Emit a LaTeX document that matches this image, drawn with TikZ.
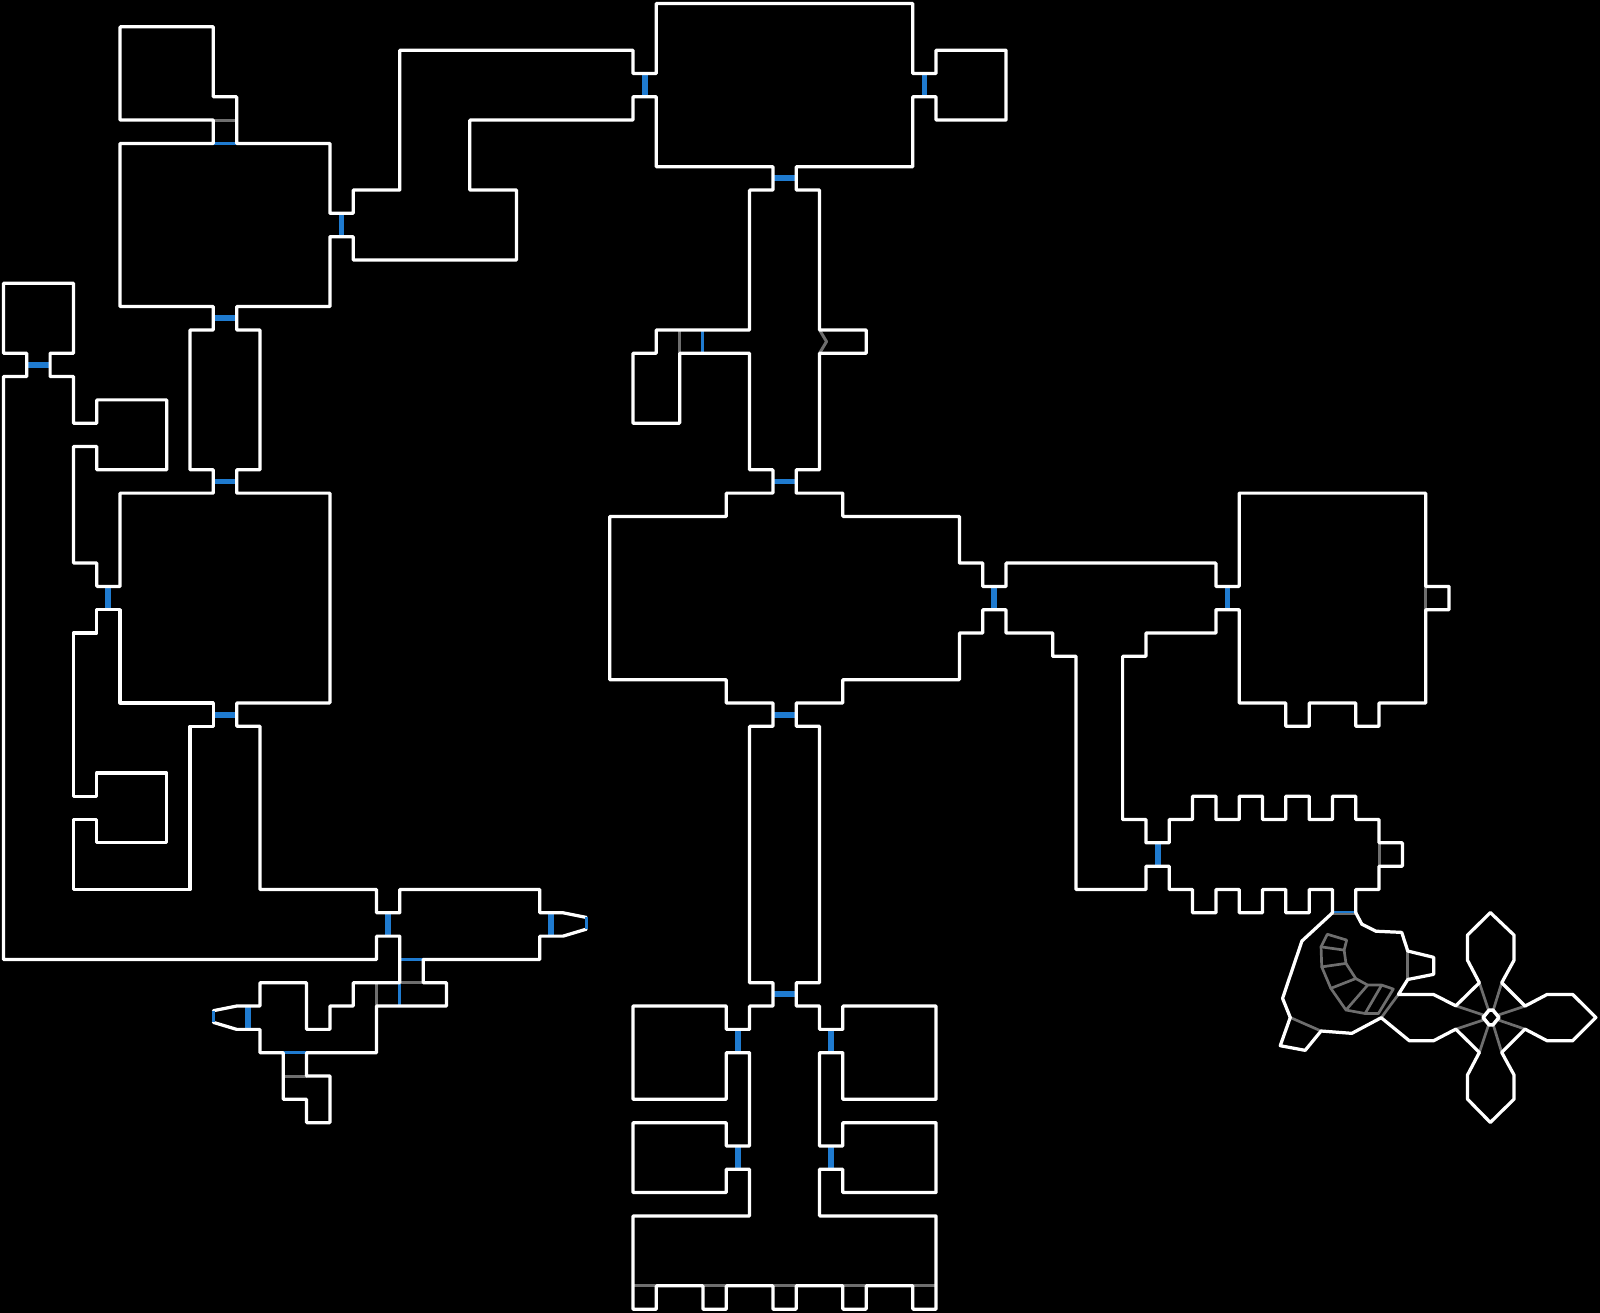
\documentclass[tikz,border=0pt]{standalone}
\usepackage{tikz}
\usepackage{xcolor}

\definecolor{doorblue}{HTML}{1F7BD0}
\definecolor{sealgray}{HTML}{6E6E6E}

\begin{document}
\begin{tikzpicture}[x=.35cm, y=-.35cm, line join=round, line cap=round]

        % 1. Styles for the map lines
        \tikzset{wall/.style={white, line width=1.38pt}}
        \tikzset{door/.style={doorblue, line width=2.5pt, line cap=butt}}
        \tikzset{thindoor/.style={doorblue, line width=1.28pt, line cap=butt}}
        \tikzset{seal/.style={sealgray, line width=1.28pt, line cap=butt}}
        \tikzset{inner/.style={sealgray, line width=1.15pt}}

        % Background, it also fixes the margins
        \fill[black] (-0.15,-0.15) rectangle (68.475,56.16);

        % 2. Wide doors (vertical, then horizontal)
        \foreach \x/\y in {14.5/9, 27.5/3, 39.5/3, 4.5/25, 16.5/39, 23.5/39, 10.5/43, 42.5/25, 52.5/25,
                49.5/36, 31.5/44, 35.5/44, 31.5/49, 35.5/49}
            \draw[door] (\x,\y) -- (\x,\y+1);
        \foreach \x/\y in {33/7.5, 33/20.5, 9/13.5, 9/20.5, 9/30.5, 1/15.5, 33/30.5, 33/42.5}
            \draw[door] (\x,\y) -- (\x+1,\y);

        % 3. Thin doors
        \draw[thindoor] (9,6) -- (10,6);
        \draw[thindoor] (17,41) -- (18,41);
        \draw[thindoor] (12,45) -- (13,45);
        \draw[thindoor] (17,42) -- (17,43);
        \draw[thindoor] (30,14) -- (30,15);
        \draw[doorblue, line width=.7pt, line cap=butt] (57,38.96) -- (58,38.96);

        % 4. Gray seals
        \foreach \x/\y in {9/5, 17/42, 12/46, 27/55, 30/55, 33/55, 36/55, 39/55}
            \draw[seal] (\x,\y) -- (\x+1,\y);
        \foreach \x/\y in {16/42, 29/14, 61/25, 59/36}
            \draw[seal] (\x,\y) -- (\x,\y+1);
        \draw[seal] (35,14) -- (35.3,14.5) -- (35,15);
        \draw[sealgray, line width=.7pt, line cap=butt] (57,39.04) -- (58,39.04);

        % 5. Gray lines inside the cave
        \begin{scope}[shift={(0.04,0.03)}]
        \draw[inner] (56.74,39.89) -- (57.57,40.14) -- (57.46,40.57) -- (57.54,41.14) -- (57.96,41.79)
            -- (58.47,42.07) -- (59.07,42.07) -- (59.57,42.24) -- (58.93,43.29) -- (58.36,43.29)
            -- (57.54,43.14) -- (56.89,42.21) -- (56.5,41.29) -- (56.47,40.43) -- cycle;
        \draw[inner] (56.47,40.43) -- (57.46,40.57);
        \draw[inner] (56.5,41.29) -- (57.54,41.14);
        \draw[inner] (56.89,42.21) -- (57.96,41.79);
        \draw[inner] (57.54,43.14) -- (58.47,42.07);
        \draw[inner] (58.36,43.29) -- (59.07,42.07);
        \draw[inner] (59.05,43.47) -- (59.79,42.47);
        \draw[inner] (60.19,40.61) -- (60.19,41.83);
        \draw[inner] (55.15,43.46) -- (56.47,44.04);

        % Spokes of the star
        \foreach \x/\y in {62.25/42.96, 62.25/43.96, 65.22/42.97, 65.22/43.96,
                63.26/41.97, 64.22/41.97, 63.26/44.96, 64.22/44.96}
            \draw[inner] (\x,\y) -- (63.76,43.46);
        \end{scope}

        % 6. Walls of the square rooms, all one line
        \draw[wall] (57,39) -- (57,38) -- (56,38) -- (56,39) -- (55,39) -- (55,38) -- (54,38) -- (54,39)
            -- (53,39) -- (53,38) -- (52,38) -- (52,39) -- (51,39) -- (51,38) -- (50,38) -- (50,37)
            -- (49,37) -- (49,38) -- (46,38) -- (46,28) -- (45,28) -- (45,27) -- (43,27) -- (43,26)
            -- (42,26) -- (42,27) -- (41,27) -- (41,29) -- (36,29) -- (36,30) -- (34,30) -- (34,31)
            -- (35,31) -- (35,42) -- (34,42) -- (34,43) -- (35,43) -- (35,44) -- (36,44) -- (36,43)
            -- (40,43) -- (40,47) -- (36,47) -- (36,45) -- (35,45) -- (35,49) -- (36,49) -- (36,48)
            -- (40,48) -- (40,51) -- (36,51) -- (36,50) -- (35,50) -- (35,52) -- (40,52) -- (40,56)
            -- (39,56) -- (39,55) -- (37,55) -- (37,56) -- (36,56) -- (36,55) -- (34,55) -- (34,56)
            -- (33,56) -- (33,55) -- (31,55) -- (31,56) -- (30,56) -- (30,55) -- (28,55) -- (28,56)
            -- (27,56) -- (27,52) -- (32,52) -- (32,50) -- (31,50) -- (31,51) -- (27,51) -- (27,48)
            -- (31,48) -- (31,49) -- (32,49) -- (32,45) -- (31,45) -- (31,47) -- (27,47) -- (27,43)
            -- (31,43) -- (31,44) -- (32,44) -- (32,43) -- (33,43) -- (33,42) -- (32,42) -- (32,31)
            -- (33,31) -- (33,30) -- (31,30) -- (31,29) -- (26,29) -- (26,22) -- (31,22) -- (31,21)
            -- (33,21) -- (33,20) -- (32,20) -- (32,15) -- (29,15) -- (29,18) -- (27,18) -- (27,15)
            -- (28,15) -- (28,14) -- (32,14) -- (32,8) -- (33,8) -- (33,7) -- (28,7) -- (28,4)
            -- (27,4) -- (27,5) -- (20,5) -- (20,8) -- (22,8) -- (22,11) -- (15,11) -- (15,10)
            -- (14,10) -- (14,13) -- (10,13) -- (10,14) -- (11,14) -- (11,20) -- (10,20) -- (10,21)
            -- (14,21) -- (14,30) -- (10,30) -- (10,31) -- (11,31) -- (11,38) -- (16,38) -- (16,39)
            -- (17,39) -- (17,38) -- (23,38) -- (23,39) -- (24,39) -- (25,39.2);
        \draw[wall] (25,39.7) -- (24,40)
            -- (23,40) -- (23,41) -- (18,41) -- (18,42) -- (19,42) -- (19,43) -- (16,43) -- (16,45)
            -- (13,45) -- (13,46) -- (14,46) -- (14,48) -- (13,48) -- (13,47) -- (12,47) -- (12,45)
            -- (11,45) -- (11,44) -- (10,44) -- (9,43.7);
        \draw[wall] (9,43.2) -- (10,43) -- (11,43) -- (11,42)
            -- (13,42) -- (13,44) -- (14,44) -- (14,43) -- (15,43) -- (15,42) -- (17,42) -- (17,40)
            -- (16,40) -- (16,41) -- (0,41) -- (0,16) -- (1,16) -- (1,15) -- (0,15) -- (0,12)
            -- (3,12) -- (3,15) -- (2,15) -- (2,16) -- (3,16) -- (3,18) -- (4,18) -- (4,17)
            -- (7,17) -- (7,20) -- (4,20) -- (4,19) -- (3,19) -- (3,24) -- (4,24) -- (4,25)
            -- (5,25) -- (5,21) -- (9,21) -- (9,20) -- (8,20) -- (8,14) -- (9,14) -- (9,13)
            -- (5,13) -- (5,6) -- (9,6) -- (9,5) -- (5,5) -- (5,1) -- (9,1) -- (9,4)
            -- (10,4) -- (10,6) -- (14,6) -- (14,9) -- (15,9) -- (15,8) -- (17,8) -- (17,2)
            -- (27,2) -- (27,3) -- (28,3) -- (28,0) -- (39,0) -- (39,3) -- (40,3) -- (40,2)
            -- (43,2) -- (43,5) -- (40,5) -- (40,4) -- (39,4) -- (39,7) -- (34,7) -- (34,8)
            -- (35,8) -- (35,14) -- (37,14) -- (37,15) -- (35,15) -- (35,20) -- (34,20) -- (34,21)
            -- (36,21) -- (36,22) -- (41,22) -- (41,24) -- (42,24) -- (42,25) -- (43,25) -- (43,24)
            -- (52,24) -- (52,25) -- (53,25) -- (53,21) -- (61,21) -- (61,25) -- (62,25) -- (62,26)
            -- (61,26) -- (61,30) -- (59,30) -- (59,31) -- (58,31) -- (58,30) -- (56,30) -- (56,31)
            -- (55,31) -- (55,30) -- (53,30) -- (53,26) -- (52,26) -- (52,27) -- (49,27) -- (49,28)
            -- (48,28) -- (48,35) -- (49,35) -- (49,36) -- (50,36) -- (50,35) -- (51,35) -- (51,34)
            -- (52,34) -- (52,35) -- (53,35) -- (53,34) -- (54,34) -- (54,35) -- (55,35) -- (55,34)
            -- (56,34) -- (56,35) -- (57,35) -- (57,34) -- (58,34) -- (58,35) -- (59,35) -- (59,36)
            -- (60,36) -- (60,37) -- (59,37) -- (59,38) -- (58,38) -- (58,39);

        % Ends of the two small pods
        \draw[thindoor] (25,39.2) -- (25,39.7);
        \draw[thindoor] (9,43.2) -- (9,43.7);

        % Lower left hall
        \draw[wall] (4,26) -- (5,26) -- (5,30) -- (9,30) -- (9,31) -- (8,31) -- (8,38) -- (3,38)
            -- (3,35) -- (4,35) -- (4,36) -- (7,36) -- (7,33) -- (4,33) -- (4,34) -- (3,34)
            -- (3,27) -- (4,27) -- cycle;

        % 7. Cave and star
        \begin{scope}[shift={(0.04,0.03)}]
        \draw[wall] (56.96,38.97) -- (55.65,40.18) -- (54.82,42.64) -- (55.15,43.46) -- (54.72,44.67)
            -- (55.79,44.87) -- (56.47,44.04) -- (57.79,44.14) -- (59.05,43.47) -- (60.26,44.46)
            -- (61.29,44.46) -- (62.25,43.96) -- (63.26,44.96) -- (62.75,45.93) -- (62.75,46.96)
            -- (63.73,47.96) -- (64.75,46.96) -- (64.75,45.93) -- (64.22,44.96) -- (65.22,43.96)
            -- (66.17,44.46) -- (67.26,44.46) -- (68.26,43.46) -- (67.26,42.47) -- (66.17,42.47)
            -- (65.22,42.97) -- (64.22,41.97) -- (64.75,41) -- (64.75,39.93) -- (63.73,38.96)
            -- (62.75,39.93) -- (62.75,41) -- (63.26,41.97) -- (62.25,42.96) -- (61.29,42.47)
            -- (59.79,42.47) -- (60.19,41.83) -- (61.30,41.61) -- (61.30,40.88) -- (60.19,40.61)
            -- (59.93,39.81) -- (58.82,39.76) -- (58.22,39.46) -- (57.96,38.97);

        % Ring at the middle of the star
        \draw[white, fill=black, line width=1.5pt] (63.68,43.14) -- (63.84,43.14) -- (64.1,43.46)
            -- (63.84,43.78) -- (63.68,43.78) -- (63.42,43.46) -- cycle;
        \end{scope}

    \end{tikzpicture}
\end{document}
